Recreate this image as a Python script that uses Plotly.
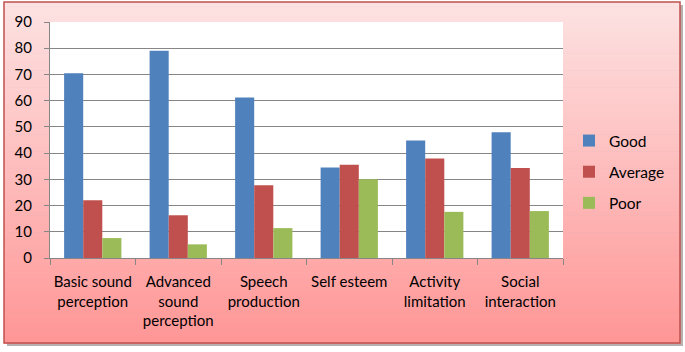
import plotly.graph_objects as go

categories = ["Basic sound<br>perception", "Advanced<br>sound<br>perception", "Speech<br>production",
              "Self esteem", "Activity<br>limitation", "Social<br>interaction"]
good = [70.5, 79, 61.2, 34.5, 44.8, 48]
average = [22, 16.3, 27.7, 35.6, 37.9, 34.3]
poor = [7.6, 5.2, 11.4, 30, 17.6, 17.9]
series_names = ["Good", "Average", "Poor"]
colors = ["#4F81BD", "#C0504D", "#9BBB59"]

W, H = 685, 352
ML, MR, MT, MB = 50, 122, 22, 94
PW, PH = W - ML - MR, H - MT - MB
PB = H - MB

def px2x(px):
    return (px - ML) / PW

def py2y(py):
    return (PB - py) / PH

fig = go.Figure()
for name, vals, col in zip(series_names, [good, average, poor], colors):
    fig.add_trace(go.Bar(x=categories, y=vals, name=name, marker_color=col,
                         marker_line_width=0, legendgroup=name))

shapes = []
# shadow
shapes.append(dict(type="rect", xref="paper", yref="paper", layer="below",
                   x0=px2x(7), x1=px2x(683), y0=py2y(5), y1=py2y(346),
                   fillcolor="#b8b0b0", line_width=0))
# gradient background
top_c = (253, 226, 226)
bot_c = (255, 150, 150)
y_top, y_bot = 2, 343
n = 80
for i in range(n):
    t = (i + 0.5) / n
    c = tuple(int(round(a + (b - a) * t)) for a, b in zip(top_c, bot_c))
    ya = y_top + (y_bot - y_top) * i / n
    yb = y_top + (y_bot - y_top) * (i + 1) / n + 0.6
    shapes.append(dict(type="rect", xref="paper", yref="paper", layer="below",
                       x0=px2x(4), x1=px2x(680), y0=py2y(yb), y1=py2y(ya),
                       fillcolor="rgb(%d,%d,%d)" % c, line_width=0))
# border
shapes.append(dict(type="rect", xref="paper", yref="paper", layer="below",
                   x0=px2x(4), x1=px2x(680), y0=py2y(343), y1=py2y(2),
                   fillcolor="rgba(0,0,0,0)", line=dict(color="#C0504D", width=1.5)))
# white plot area
shapes.append(dict(type="rect", xref="paper", yref="paper", layer="below",
                   x0=0, x1=1, y0=0, y1=1, fillcolor="white", line_width=0))

font_family = "Lato, Liberation Sans, sans-serif"
fig.update_layout(
    width=W, height=H,
    margin=dict(l=ML, r=MR, t=MT, b=MB, autoexpand=False),
    paper_bgcolor="white", plot_bgcolor="rgba(0,0,0,0)",
    barmode="group", bargap=0.33, bargroupgap=0,
    shapes=shapes,
    font=dict(family=font_family, size=15, color="black"),
    legend=dict(x=px2x(569), xanchor="left", y=py2y(172), yanchor="middle",
                bgcolor="rgba(0,0,0,0)", traceorder="grouped", tracegroupgap=8,
                font=dict(size=15.5)),
    showlegend=True,
)
fig.update_xaxes(showline=True, linecolor="#868686", linewidth=1,
                 ticks="outside", tickson="boundaries", ticklen=6, tickcolor="#868686",
                 ticklabelstandoff=10, showgrid=False, tickangle=0, automargin=False)
fig.update_yaxes(range=[0, 90], dtick=10, showline=True, linecolor="#868686", linewidth=1,
                 ticks="outside", ticklen=5, tickcolor="#868686",
                 showgrid=True, gridcolor="#868686", gridwidth=1, zeroline=False,
                 ticklabelstandoff=9, automargin=False)

fig.write_html("out.html", config={"displayModeBar": False},
               post_script="document.body.style.margin='0';document.body.style.overflow='hidden';")
